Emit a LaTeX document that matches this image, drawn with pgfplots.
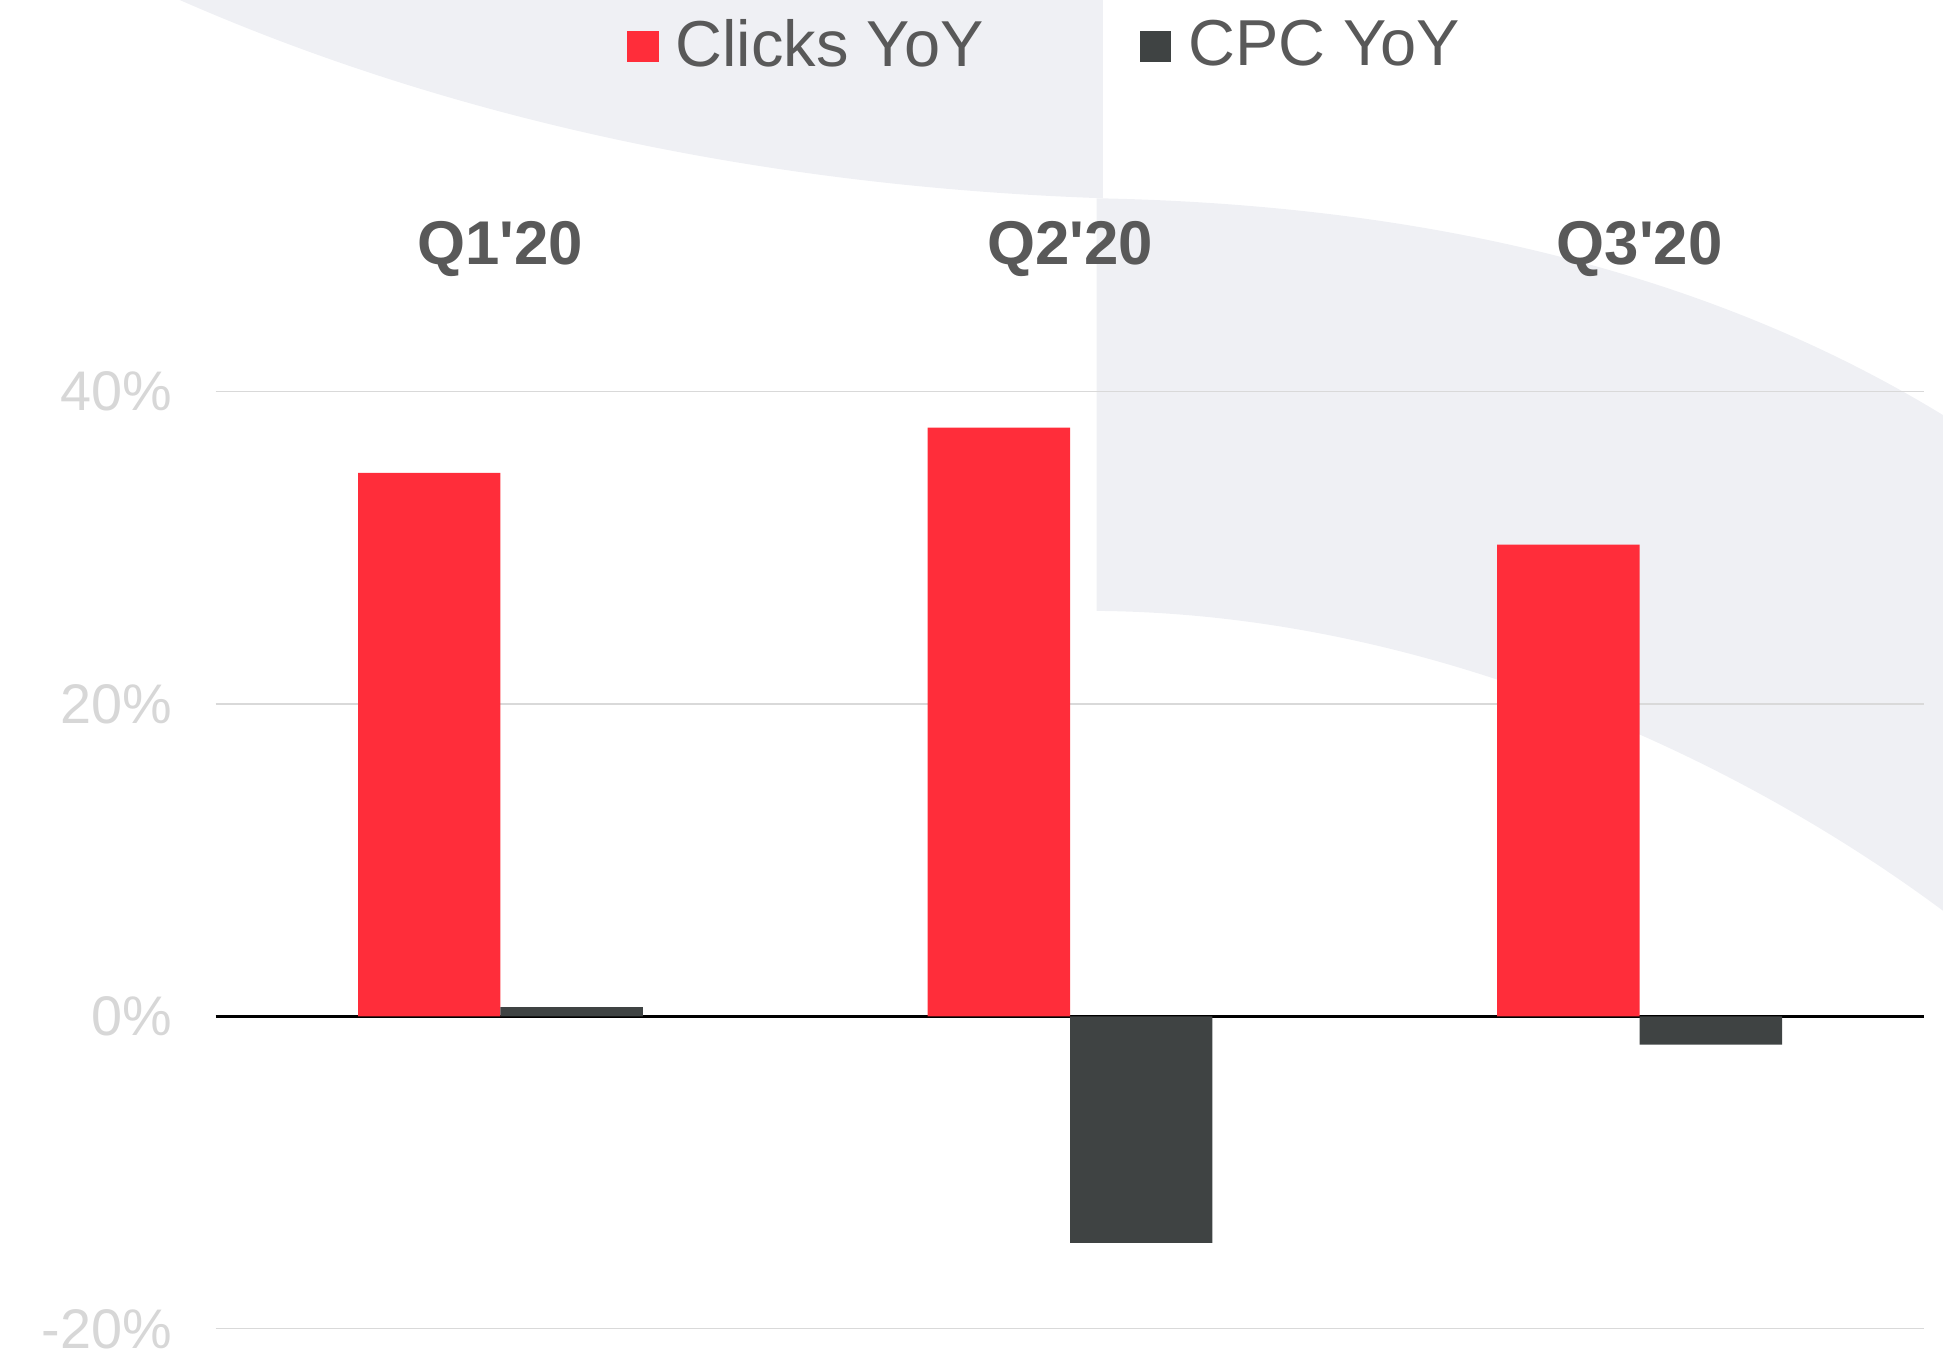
\documentclass[border=0pt]{standalone}
\usepackage{fontspec}
\setmainfont{Liberation Sans}
\usepackage{pgfplots}
\pgfplotsset{compat=1.18}
\definecolor{clickRed}{RGB}{255,45,58}
\definecolor{cpcDark}{RGB}{63,67,67}
\definecolor{gridGray}{RGB}{217,217,217}
\definecolor{tickGray}{RGB}{215,215,215}
\definecolor{labelGray}{RGB}{89,89,89}
\definecolor{swoosh}{RGB}{239,240,244}

\begin{document}
\begin{tikzpicture}
\useasboundingbox (0,0) rectangle (485.75bp,337.5bp);
% background decoration, in reference pixel units
\begin{scope}[shift={(0bp,337.5bp)}, x=0.3098bp, y=-0.3098bp]
  \fill[swoosh] (145,0) -- (890,0) -- (890,160)
    .. controls (600,150) and (350,90) .. (145,0) -- cycle;
  \fill[swoosh] (885,160) .. controls (1150,165) and (1380,220) .. (1568,335)
    -- (1568,735) .. controls (1400,610) and (1150,495) .. (885,493) -- cycle;
\end{scope}
\begin{axis}[
  at={(53.9bp,5.3bp)}, anchor=south west,
  scale only axis, width=427.2bp, height=234.3bp,
  xmin=-0.5, xmax=2.5, ymin=-20, ymax=40,
  xtick={0,1,2},
  xticklabels={Q1\textquotesingle 20,Q2\textquotesingle 20,Q3\textquotesingle 20},
  xticklabel pos=upper,
  xticklabel style={font=\bfseries\fontsize{15.5}{18}\selectfont, text=labelGray, anchor=base, yshift=31.9bp},
  ytick={-20,0,20,40},
  yticklabel={\pgfmathprintnumber{\tick}\%},
  yticklabel style={font=\fontsize{14}{16}\selectfont, text=tickGray, xshift=-7.4bp},
  /pgf/number format/assume math mode=true,
  major tick length=0pt,
  ymajorgrids,
  major grid style={draw=gridGray, line width=0.3bp},
  extra y ticks={0}, extra y tick labels={},
  extra y tick style={grid=major, major grid style={draw=black, line width=0.6bp}},
  axis line style={draw=none},
  legend image code/.code={\fill[#1] (0bp,-4bp) rectangle (7.8bp,3.8bp); \path (10bp,0bp);},
  legend style={at={(0.487,1.369)}, anchor=center, draw=none, fill=none,
    legend columns=2, font=\fontsize{16.3}{19}\selectfont, text=labelGray,
    /tikz/every even column/.append style={column sep=37.2bp}},
  legend cell align=left,
]
\addplot[ybar, bar width=35.6bp, bar shift=-17.8bp, fill=clickRed, draw=none]
  coordinates {(0,34.8) (1,37.7) (2,30.2)};
\addplot[ybar, bar width=35.6bp, bar shift=17.8bp, fill=cpcDark, draw=none]
  coordinates {(0,0.6) (1,-14.5) (2,-1.8)};
\legend{Clicks YoY, CPC YoY}
\end{axis}
\end{tikzpicture}
\end{document}
